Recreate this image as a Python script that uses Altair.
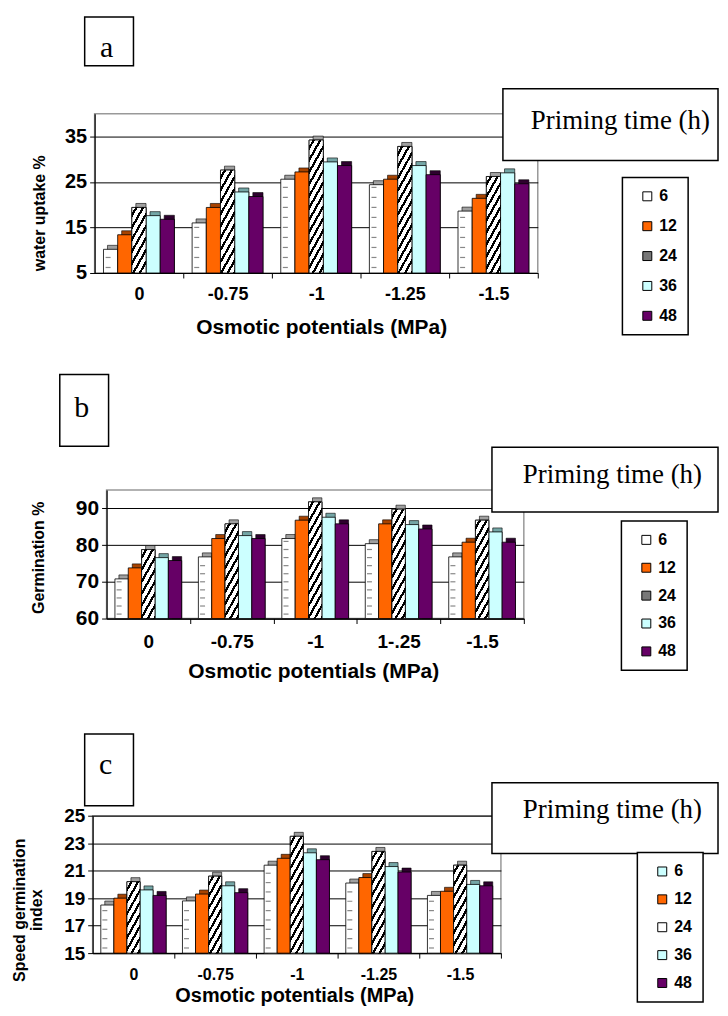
import json
import altair as alt

FONT = "Liberation Sans"
SERIF = "Liberation Serif"

SERIES = ["6", "12", "24", "36", "48"]

# Panel a: water uptake %
CATS_A = ["0", "-0.75", "-1", "-1.25", "-1.5"]
A_6 = [10.2, 16.0, 25.6, 24.4, 18.6]
A_12 = [13.4, 19.4, 27.2, 25.6, 21.4]
A_24 = [19.4, 27.6, 34.2, 32.8, 26.2]
A_36 = [17.6, 22.8, 29.4, 28.6, 27.0]
A_48 = [16.8, 21.8, 28.6, 26.6, 24.6]
A_TICKS = [5, 15, 25, 35]

# Panel b: germination %
CATS_B = ["0", "-0.75", "-1", "1-.25", "-1.5"]
B_6 = [70.8, 76.8, 81.8, 80.4, 76.8]
B_12 = [73.8, 81.8, 86.8, 85.8, 80.8]
B_24 = [78.8, 85.8, 91.8, 89.8, 86.8]
B_36 = [76.6, 82.6, 87.6, 85.6, 83.6]
B_48 = [75.8, 81.8, 85.8, 84.4, 80.8]
B_TICKS = [60, 70, 80, 90]

# Panel c: speed germination index
CATS_C = ["0", "-0.75", "-1", "-1.25", "-1.5"]
C_6 = [18.5, 18.8, 21.4, 20.1, 19.2]
C_12 = [19.0, 19.3, 21.9, 20.5, 19.5]
C_24 = [20.2, 20.6, 23.5, 22.4, 21.4]
C_36 = [19.6, 19.9, 22.3, 21.3, 20.0]
C_48 = [19.2, 19.4, 21.8, 20.9, 19.9]
C_TICKS = [15, 17, 19, 21, 23, 25]

LETTERS = ["a", "b", "c"]
PRIMING = "Priming time (h)"
X_TITLE = "Osmotic potentials (MPa)"
Y_TITLE_A = ["water uptake %"]
Y_TITLE_B = ["Germination %"]
Y_TITLE_C = ["Speed germination", "index"]

FACE = {"6": "#FFFFFF", "12": "#FF6600", "24": "#FFFFFF", "36": "#CCFFFF", "48": "#660066"}
SHADE = {"6": "#A0A0A0", "12": "#A84300", "24": "#A0A0A0", "36": "#74A6A6", "48": "#2E002E"}
LEG_AB = ["#FFFFFF", "#FF6600", "#777777", "#CCFFFF", "#660066"]
LEG_C = ["#CCFFFF", "#FF6600", "#FFFFFF", "#CCFFFF", "#660066"]
BW = 0.16  # bar width in category units (group = 0.8)


def stripe_grad(w, h, k=1.8, q=12.0, frac=0.38):
    h = max(h, 1.0)
    span = k * w + h
    n = span / q
    s = span / (k * k * w / h + h / w)
    stops = [{"offset": 0.0, "color": "#ffffff"}]
    i = 0
    while True:
        a = (i + 0.5) / n
        if a >= 1:
            break
        b = min(a + frac / n, 1.0)
        a5, b5 = round(a, 5), round(b, 5)
        stops += [
            {"offset": a5, "color": "#ffffff"},
            {"offset": a5, "color": "#000000"},
            {"offset": b5, "color": "#000000"},
            {"offset": b5, "color": "#ffffff"},
        ]
        i += 1
    stops.append({"offset": 1.0, "color": "#ffffff"})
    return {"gradient": "linear", "x1": 0, "y1": 0,
            "x2": round(s * k / h, 5), "y2": round(s / w, 5), "stops": stops}


def one(t):
    return alt.Data(values=[{"t": t}])


def box(x0, x1, y0, y1, sw=1.5):
    return alt.Chart(one("")).mark_rect(fill="white", stroke="black", strokeWidth=sw).encode(
        x=alt.value(x0), x2=alt.value(x1), y=alt.value(y0), y2=alt.value(y1))


def label(text, x, y, font=FONT, size=14, weight="bold", align="center", baseline="alphabetic", angle=0):
    return alt.Chart(one(text)).mark_text(
        font=font, fontSize=size, fontWeight=weight, align=align, baseline=baseline,
        angle=angle, color="black").encode(x=alt.value(x), y=alt.value(y), text="t:N")


def panel(cats, vals, ylo, yhi, yticks, W, H, ylab_fs, xlab_fs, lay, leg_colors, dash_step, row_pad):
    unit = W / 5.0
    barw = BW * unit
    rows = []
    for si, s in enumerate(SERIES):
        for ci, c in enumerate(cats):
            v = vals[si][ci]
            r = {"cat": c, "ci": ci, "series": s, "si": si, "value": v,
                 "face": FACE[s], "shade": SHADE[s]}
            if s == "24":
                r["grad"] = stripe_grad(barw, (v - ylo) / (yhi - ylo) * H)
            rows.append(r)

    xs = alt.Scale(domain=[-0.5, 4.5], nice=False, zero=False)
    ys = alt.Scale(domain=[ylo, yhi], nice=False, zero=False)
    xaxis = alt.Axis(values=[0, 1, 2, 3, 4], labelExpr=json.dumps(cats) + "[datum.value]",
                     tickOffset=unit / 2, labelOffset=-unit / 2, labelFlush=False, grid=False,
                     domainColor="black", domainWidth=1.2, tickColor="black", tickSize=5,
                     labelFont=FONT, labelFontSize=xlab_fs, labelFontWeight="bold",
                     labelColor="black", labelPadding=lay["xlabpad"], title=None)
    yaxis = alt.Axis(values=yticks, grid=True, gridColor="black", gridWidth=1,
                     domainColor="black", domainWidth=1.2, tickColor="black", tickSize=5,
                     labelFont=FONT, labelFontSize=ylab_fs, labelFontWeight="bold",
                     labelColor="black", labelPadding=3, labelFlush=False, title=None)
    X = alt.X("x1:Q", scale=xs, axis=xaxis)
    Y = alt.Y("value:Q", scale=ys, axis=yaxis)
    base = alt.Chart().transform_calculate(
        x1=f"datum.ci + (datum.si - 2) * {BW} - {BW / 2}",
        x2=f"datum.ci + (datum.si - 2) * {BW} + {BW / 2}",
        xc=f"datum.ci + (datum.si - 2) * {BW}",
    )
    enc = dict(x=X, x2=alt.X2("x2:Q"), y=Y, y2=alt.datum(ylo))

    shadow = base.mark_bar(xOffset=4, yOffset=-4, stroke="black", strokeWidth=0.6).encode(
        fill=alt.Fill("shade:N", scale=None), **enc)
    face = base.mark_bar(stroke="black", strokeWidth=0.8).encode(
        fill=alt.Fill("face:N", scale=None), **enc)
    stripes = base.transform_filter("datum.series == '24'").mark_bar(
        stroke="black", strokeWidth=0.8).encode(fill=alt.Fill("grad:N", scale=None), **enc)
    dashes = base.transform_filter("datum.series == '6'").transform_calculate(
        ys=f"sequence({ylo} + {dash_step} * 0.55, datum.value - {dash_step} * 0.25, {dash_step})"
    ).transform_flatten(["ys"]).mark_tick(
        orient="horizontal", size=5, thickness=1.2, color="#555555", xOffset=-2.5
    ).encode(x=alt.X("xc:Q", scale=xs, axis=xaxis), y=alt.Y("ys:Q", scale=ys, axis=yaxis))

    px0, px1, py0, py1 = lay["prim_box"]
    leg = alt.Chart(alt.Data(values=[{"series": s} for s in SERIES])).mark_square(
        size=20, stroke="black", strokeWidth=1).encode(
        x=alt.value(px0 + 30), y=alt.value(py0 + 20),
        fill=alt.Fill("series:N", sort=SERIES, scale=alt.Scale(domain=SERIES, range=leg_colors),
                      legend=alt.Legend(orient="none", legendX=lay["legend"][0], legendY=lay["legend"][1],
                                        title=None, symbolType="square", symbolSize=81,
                                        symbolStrokeColor="black", symbolStrokeWidth=1,
                                        symbolOpacity=1, symbolOffset=6, labelFont=FONT,
                                        labelFontSize=16, labelFontWeight="bold", labelColor="black",
                                        labelOffset=4, rowPadding=row_pad, padding=11,
                                        strokeColor="black", fillColor="white")))

    lx0, lx1, ly0, ly1 = lay["letter_box"]
    deco = [
        leg,
        box(px0, px1, py0, py1),
        label(PRIMING, lay["prim_text"][0], lay["prim_text"][1], font=SERIF, size=27,
              weight="normal", align="left"),
        box(lx0, lx1, ly0, ly1),
        label(lay["letter"], lay["letter_pos"][0], lay["letter_pos"][1], font=SERIF, size=30,
              weight="normal"),
        label(X_TITLE, lay["xtitle"][0], lay["xtitle"][1], size=lay["xtitle_fs"]),
    ]
    for txt, (tx, ty) in zip(lay["ytitle_text"], lay["ytitle_pos"]):
        deco.append(label(txt, tx, ty, size=16, angle=270, baseline="middle"))

    return alt.layer(shadow, face, stripes, dashes, *deco, data=alt.Data(values=rows)).properties(
        width=W, height=H)


lay_a = dict(xlabpad=8, prim_box=(410, 626, -25, 47), prim_text=(438, 15),
             letter_box=(-10, 39, -97, -48), letter="a", letter_pos=(12, -57),
             xtitle=(228, 221), xtitle_fs=21, ytitle_text=Y_TITLE_A, ytitle_pos=[(-55, 100)],
             legend=(530, 64))
lay_b = dict(xlabpad=9, prim_box=(387, 614, -43, 22), prim_text=(418, -7),
             letter_box=(-47, 2, -116, -44), letter="b", letter_pos=(-25, -73),
             xtitle=(208, 189), xtitle_fs=21, ytitle_text=Y_TITLE_B, ytitle_pos=[(-68, 68)],
             legend=(517, 31))
lay_c = dict(xlabpad=8, prim_box=(401, 628, -33, 38), prim_text=(432, 2),
             letter_box=(-8, 41, -82, -10), letter="c", letter_pos=(13, -42),
             xtitle=(203, 187), xtitle_fs=20, ytitle_text=Y_TITLE_C, ytitle_pos=[(-73, 95), (-56, 95)],
             legend=(547, 37))

pa = panel(CATS_A, [A_6, A_12, A_24, A_36, A_48], 5, 40, A_TICKS, 445, 160, 20, 18, lay_a, LEG_AB, 2.2, 14)
pb = panel(CATS_B, [B_6, B_12, B_24, B_36, B_48], 60, 95, B_TICKS, 419, 129, 21, 19, lay_b, LEG_AB, 2.2, 12)
pc = panel(CATS_C, [C_6, C_12, C_24, C_36, C_48], 15, 25, C_TICKS, 410, 138, 19, 16, lay_c, LEG_C, 0.68, 12)


def shifted(ch, dx):
    spacer = alt.Chart(alt.Data(values=[{"s": 0}])).mark_point(opacity=0).encode(
        x=alt.value(0), y=alt.value(0)).properties(width=1, height=1, view=alt.ViewBackground(stroke=None))
    return alt.hconcat(spacer, ch, spacing=dx - 1, bounds="flush").resolve_scale(
        fill="independent").resolve_legend(fill="independent")


# nested concat groups count as zero height in flush layout, so spacing is top-to-top
row_a = shifted(pa, 2)
row_b = shifted(pb, 14)
inner = alt.vconcat(row_b, pc, spacing=327, bounds="flush").resolve_scale(
    fill="independent").resolve_legend(fill="independent")
chart = alt.vconcat(row_a, inner, spacing=378, bounds="flush").resolve_scale(
    fill="independent").resolve_legend(fill="independent").properties(
    padding={"left": 3, "top": 5, "right": 0, "bottom": 0}
).configure_view(stroke="#999999", strokeWidth=1.5).configure_legend(strokeWidth=1.5)

chart.save("out.html", embed_options={"renderer": "svg", "actions": False})
